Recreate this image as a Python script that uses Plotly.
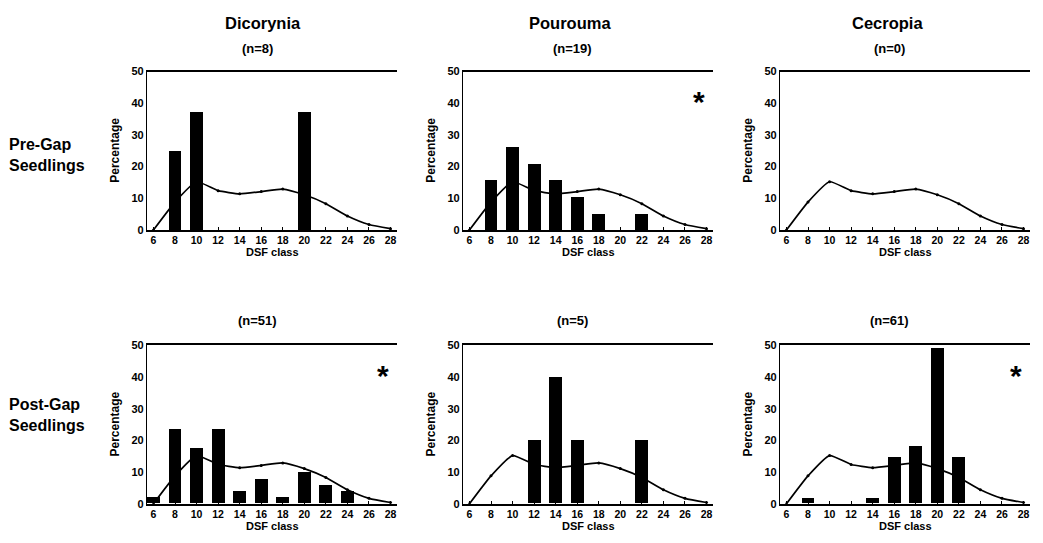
import plotly.graph_objects as go

W, H = 1043, 543

# ---------------- data ----------------
dsf_classes = [6, 8, 10, 12, 14, 16, 18, 20, 22, 24, 26, 28]
reference_curve = [0.0, 8.8, 15.2, 12.4, 11.4, 12.1, 12.9, 11.1, 8.3, 4.4, 1.7, 0.4]

species = ["Dicorynia", "Pourouma", "Cecropia"]
row_labels = ["Pre-Gap<br>Seedlings", "Post-Gap<br>Seedlings"]
pre_n = [8, 19, 0]
post_n = [51, 5, 61]

dic_pre_x = [8, 10, 20]
dic_pre_y = [25.0, 37.5, 37.5]
pou_pre_x = [8, 10, 12, 14, 16, 18, 22]
pou_pre_y = [15.8, 26.3, 21.1, 15.8, 10.5, 5.3, 5.3]
cec_pre_x = []
cec_pre_y = []

dic_post_x = [6, 8, 10, 12, 14, 16, 18, 20, 22, 24]
dic_post_y = [2.0, 23.5, 17.6, 23.5, 3.9, 7.8, 2.0, 9.8, 5.9, 3.9]
pou_post_x = [12, 14, 16, 22]
pou_post_y = [20.0, 40.0, 20.0, 20.0]
cec_post_x = [8, 14, 16, 18, 20, 22]
cec_post_y = [1.6, 1.6, 14.8, 18.0, 49.2, 14.8]

significant = [[False, True, False], [True, False, True]]

y_ticks = [0, 10, 20, 30, 40, 50]

# ---------------- layout geometry (pixels) ----------------
box_left = [147, 463, 780]
box_w = 250
row_top = [67, 347]
box_h = 162
title_x = [263, 570, 887]
n_x = [257, 572, 889]

FONT = "Liberation Sans"

def px(x):
    return x / W

def py(y):
    return 1 - y / H

bars = [
    [(dic_pre_x, dic_pre_y), (pou_pre_x, pou_pre_y), (cec_pre_x, cec_pre_y)],
    [(dic_post_x, dic_post_y), (pou_post_x, pou_post_y), (cec_post_x, cec_post_y)],
]
ns = [pre_n, post_n]

fig = go.Figure()
annotations = []
layout_axes = {}

for r in range(2):
    for c in range(3):
        k = r * 3 + c + 1
        xa = "x" if k == 1 else f"x{k}"
        ya = "y" if k == 1 else f"y{k}"
        bx, by = bars[r][c]
        fig.add_trace(go.Bar(x=bx, y=by, width=1.2, marker_color="black",
                             marker_line_width=0, xaxis=xa, yaxis=ya,
                             showlegend=False))
        fig.add_trace(go.Scatter(x=dsf_classes, y=reference_curve,
                                 mode="lines+markers",
                                 line=dict(color="black", width=1.7, shape="spline", smoothing=0.5),
                                 marker=dict(color="black", size=3),
                                 xaxis=xa, yaxis=ya, showlegend=False))
        x0 = box_left[c]
        y0 = row_top[r]
        layout_axes["xaxis" if k == 1 else f"xaxis{k}"] = dict(
            domain=[px(x0), px(x0 + box_w)], anchor=ya, range=[5.4, 28.6],
            tickvals=dsf_classes, ticktext=[str(v) for v in dsf_classes],
            showline=True, linecolor="black", linewidth=1.6, mirror=True,
            ticks="inside", ticklen=3, tickwidth=1, tickcolor="black",
            showgrid=False, zeroline=False,
            tickfont=dict(family=FONT, size=10.5, color="black", weight="bold"),
            fixedrange=True)
        layout_axes["yaxis" if k == 1 else f"yaxis{k}"] = dict(
            domain=[py(y0 + box_h), py(y0)], anchor=xa, range=[0, 50],
            tickvals=y_ticks, showline=True, linecolor="black", linewidth=1.2,
            ticks="", showgrid=False, zeroline=False,
            tickfont=dict(family=FONT, size=11, color="black", weight="bold"),
            fixedrange=True)
        # n labels
        annotations.append(dict(x=px(n_x[c]), y=py(43 if r == 0 else 322), xref="paper", yref="paper",
                                text=f"(n={ns[r][c]})", showarrow=False,
                                xanchor="center", yanchor="middle",
                                font=dict(family=FONT, size=13, color="black", weight="bold")))
        # axis titles
        annotations.append(dict(x=px(x0 - 32), y=py(y0 + box_h / 2), xref="paper", yref="paper",
                                text="Percentage", textangle=-90, showarrow=False,
                                xanchor="center", yanchor="middle",
                                font=dict(family=FONT, size=12, color="black", weight="bold")))
        annotations.append(dict(x=px(x0 + box_w / 2), y=py(y0 + box_h + 23), xref="paper", yref="paper",
                                text="DSF class", showarrow=False,
                                xanchor="center", yanchor="middle",
                                font=dict(family=FONT, size=11, color="black", weight="bold")))
        if significant[r][c]:
            annotations.append(dict(x=27.3, y=40.5, xref=xa, yref=ya, text="*",
                                    showarrow=False, xanchor="center", yanchor="middle",
                                    font=dict(family=FONT, size=30, color="black", weight="bold")))

for c in range(3):
    annotations.append(dict(x=px(title_x[c]), y=py(17), xref="paper", yref="paper",
                            text=species[c], showarrow=False, xanchor="center", yanchor="middle",
                            font=dict(family=FONT, size=16.5, color="black", weight="bold")))

for r in range(2):
    annotations.append(dict(x=px(7), y=py(152 if r == 0 else 418), xref="paper", yref="paper",
                            text=row_labels[r], showarrow=False, xanchor="left", yanchor="middle",
                            align="left",
                            font=dict(family=FONT, size=16, color="black", weight="bold")))

fig.update_layout(width=W, height=H, margin=dict(l=0, r=0, t=0, b=0),
                  paper_bgcolor="white", plot_bgcolor="white",
                  bargap=0, annotations=annotations, showlegend=False,
                  **layout_axes)

fig.write_html("out.html", config={"displayModeBar": False})
